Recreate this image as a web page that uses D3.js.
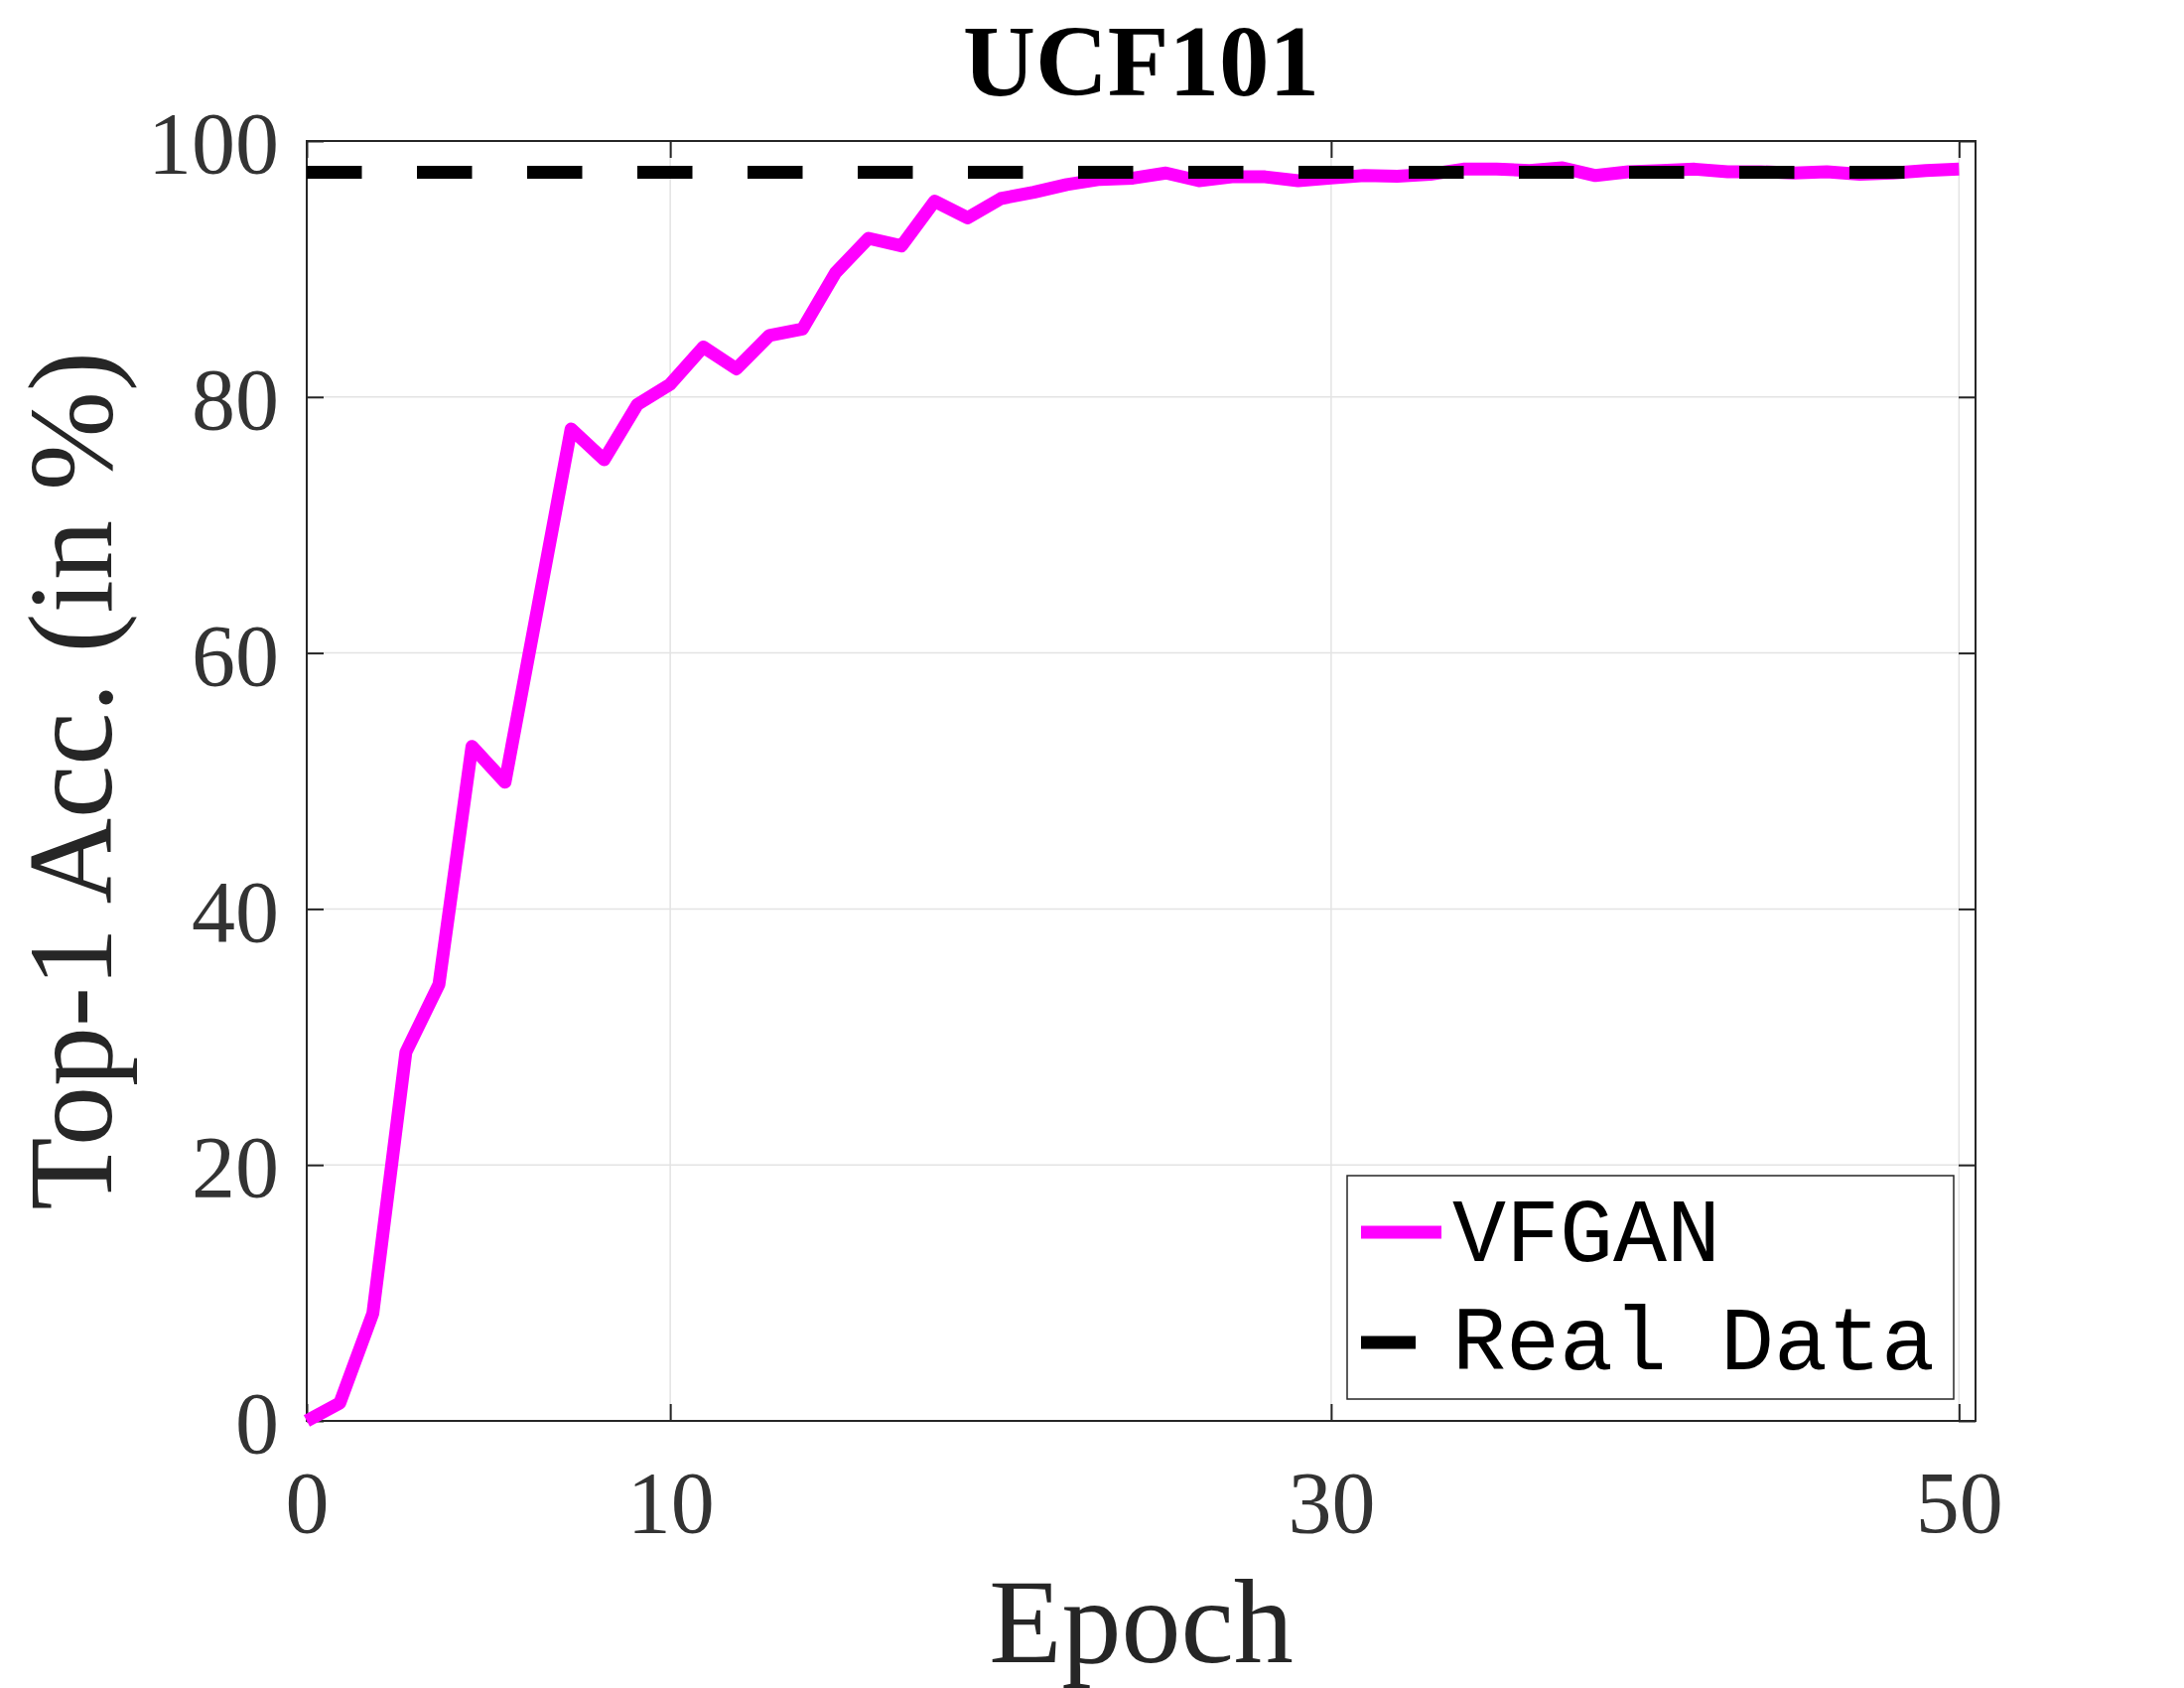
<!DOCTYPE html>
<html>
<head>
<meta charset="utf-8">
<script src="https://cdn.jsdelivr.net/npm/d3@7"></script>
<style>
  body { margin: 0; background: #fff; }
  text { font-family: "Times New Roman", "Liberation Serif", serif; }
</style>
</head>
<body>
<div id="chart"></div>
<script>
var width = 2200;
var height = 1700;

// epoch index of each point
var epochs = [0, 1, 2, 3, 4, 5, 6, 7, 8, 9, 10, 11, 12, 13, 14, 15, 16, 17, 18, 19, 20,
    21, 22, 23, 24, 25, 26, 27, 28, 29, 30, 31, 32, 33, 34, 35, 36, 37, 38, 39, 40,
    41, 42, 43, 44, 45, 46, 47, 48, 49, 50];

var vfgan = [0, 1.4, 8.4, 28.8, 34.1, 52.7, 49.9, 63.7, 77.5, 75.1, 79.4,
    81.0, 83.9, 82.2, 84.8, 85.3, 89.7, 92.4, 91.8, 95.3, 94.0,
    95.5, 96.0, 96.6, 97.0, 97.1, 97.5, 96.9, 97.2, 97.2, 96.9,
    97.1, 97.3, 97.25, 97.4, 97.8, 97.8, 97.7, 97.9, 97.3, 97.6,
    97.7, 97.8, 97.6, 97.6, 97.5, 97.6, 97.4, 97.5, 97.7, 97.8];

var realData = 97.55;

var xTickPos = [0, 11, 31, 50];
var xTickLabels = ["0", "10", "30", "50"];
var yTicks = [0, 20, 40, 60, 80, 100];

var seriesNames = ["VFGAN", "Real Data"];

// plot box (window.top is reserved, so use other names)
var pLeft = 309, pRight = 1990, pTop = 142, pBottom = 1431;
var axisColor = "#262626";

var svg = d3.select("#chart")
            .append("svg")
            .attr("width", width)
            .attr("height", height);

var x = d3.scaleLinear().domain([0, 50.5]).range([pLeft, pRight]);
var y = d3.scaleLinear().domain([0, 100]).range([pBottom, pTop]);

// grid
var grid = svg.append("g");
grid.selectAll("line.gy")
    .data(yTicks)
    .enter()
    .append("line")
    .attr("x1", pLeft).attr("x2", pRight)
    .attr("y1", function(d) { return y(d); })
    .attr("y2", function(d) { return y(d); })
    .attr("stroke", "#e3e3e3")
    .attr("stroke-width", 1.5);
grid.selectAll("line.gx")
    .data(xTickPos)
    .enter()
    .append("line")
    .attr("y1", pTop).attr("y2", pBottom)
    .attr("x1", function(d) { return x(d); })
    .attr("x2", function(d) { return x(d); })
    .attr("stroke", "#e3e3e3")
    .attr("stroke-width", 1.5);

// axes, ticks inside on all four sides
var tickLen = 17;
svg.append("g")
    .attr("transform", "translate(0," + pBottom + ")")
    .call(d3.axisBottom(x).tickValues(xTickPos).tickSize(-tickLen).tickFormat(function(d, i) { return xTickLabels[i]; }))
    .call(function(g) {
        g.select(".domain").remove();
        g.selectAll("line").attr("stroke", axisColor).attr("stroke-width", 2);
        g.selectAll("text")
            .attr("y", 112)
            .attr("dy", 0)
            .attr("fill", "#333")
            .style("font-family", '"Times New Roman", "Liberation Serif", serif')
            .style("font-size", "88px");
    });
svg.append("g")
    .attr("transform", "translate(0," + pTop + ")")
    .call(d3.axisTop(x).tickValues(xTickPos).tickSize(-tickLen).tickFormat(""))
    .call(function(g) {
        g.select(".domain").remove();
        g.selectAll("line").attr("stroke", axisColor).attr("stroke-width", 2);
    });
svg.append("g")
    .attr("transform", "translate(" + pLeft + ",0)")
    .call(d3.axisLeft(y).tickValues(yTicks).tickSize(-tickLen))
    .call(function(g) {
        g.select(".domain").remove();
        g.selectAll("line").attr("stroke", axisColor).attr("stroke-width", 2);
        g.selectAll("text")
            .attr("x", -28)
            .attr("dy", "0.36em")
            .attr("fill", "#333")
            .style("font-family", '"Times New Roman", "Liberation Serif", serif')
            .style("font-size", "88px");
    });
svg.append("g")
    .attr("transform", "translate(" + pRight + ",0)")
    .call(d3.axisRight(y).tickValues(yTicks).tickSize(-tickLen).tickFormat(""))
    .call(function(g) {
        g.select(".domain").remove();
        g.selectAll("line").attr("stroke", axisColor).attr("stroke-width", 2);
    });

svg.append("rect")
    .attr("x", pLeft).attr("y", pTop)
    .attr("width", pRight - pLeft).attr("height", pBottom - pTop)
    .attr("fill", "none")
    .attr("stroke", axisColor)
    .attr("stroke-width", 2);

var line = d3.line()
    .x(function(d, i) { return x(epochs[i]); })
    .y(function(d) { return y(d); });

svg.append("path")
    .datum(vfgan)
    .attr("d", line)
    .attr("fill", "none")
    .attr("stroke", "#ff00ff")
    .attr("stroke-width", 13)
    .attr("stroke-linejoin", "round");

// real data reference (dashed), plotted second so it sits on top
svg.append("line")
    .attr("x1", x(epochs[0]))
    .attr("x2", x(epochs[epochs.length - 1]))
    .attr("y1", y(realData))
    .attr("y2", y(realData))
    .attr("stroke", "#000")
    .attr("stroke-width", 13)
    .attr("stroke-dasharray", "55.5,55.5");

// titles
svg.append("text")
    .attr("x", (pLeft + pRight) / 2)
    .attr("y", 96)
    .attr("text-anchor", "middle")
    .style("font-weight", "bold")
    .style("font-size", "101px")
    .attr("fill", "#000")
    .text("UCF101");

svg.append("text")
    .attr("x", (pLeft + pRight) / 2)
    .attr("y", 1674)
    .attr("text-anchor", "middle")
    .style("font-size", "120px")
    .attr("fill", "#262626")
    .text("Epoch");

svg.append("text")
    .attr("transform", "translate(112," + ((pTop + pBottom) / 2) + ") rotate(-90)")
    .attr("text-anchor", "middle")
    .style("font-size", "120px")
    .attr("fill", "#262626")
    .text("Top-1 Acc. (in %)");

// legend
var lg = svg.append("g");
lg.append("rect")
    .attr("x", 1357).attr("y", 1184)
    .attr("width", 611).attr("height", 225)
    .attr("fill", "#fff")
    .attr("stroke", axisColor)
    .attr("stroke-width", 1.5);
lg.append("line")
    .attr("x1", 1371).attr("x2", 1452)
    .attr("y1", 1241).attr("y2", 1241)
    .attr("stroke", "#ff00ff")
    .attr("stroke-width", 13);
lg.append("line")
    .attr("x1", 1371).attr("x2", 1426)
    .attr("y1", 1352).attr("y2", 1352)
    .attr("stroke", "#000")
    .attr("stroke-width", 13);
lg.selectAll("text.leg")
    .data(seriesNames)
    .enter()
    .append("text")
    .attr("x", 1463)
    .attr("y", function(d, i) { return 1270 + i * 109; })
    .style("font-family", '"Courier New", "Liberation Mono", monospace')
    .style("font-size", "90px")
    .attr("fill", "#000")
    .text(function(d) { return d; });
</script>
</body>
</html>
